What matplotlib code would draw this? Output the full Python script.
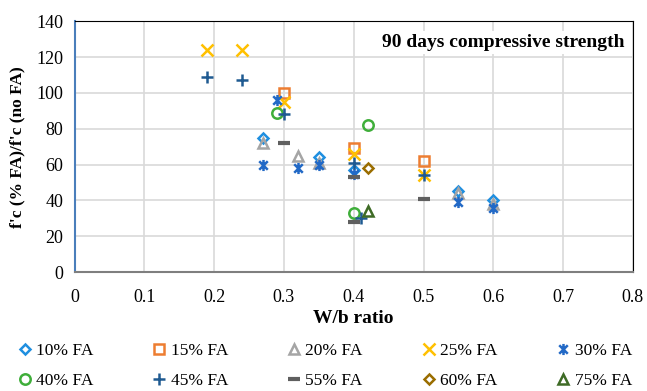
import matplotlib.pyplot as plt
from matplotlib.path import Path

# data
fa10_x = [0.27, 0.35, 0.40, 0.55, 0.60]
fa10_y = [75, 64, 57, 45, 40]
fa15_x = [0.30, 0.40, 0.50]
fa15_y = [100, 69, 62]
fa20_x = [0.27, 0.32, 0.35, 0.55, 0.60]
fa20_y = [72, 65, 61, 44, 38]
fa25_x = [0.19, 0.24, 0.30, 0.40, 0.50]
fa25_y = [124, 124, 95, 66, 54]
fa30_x = [0.27, 0.29, 0.32, 0.35, 0.40, 0.55, 0.60]
fa30_y = [60, 96, 58, 60, 55, 39, 36]
fa40_x = [0.29, 0.40, 0.42]
fa40_y = [89, 33, 82]
fa45_x = [0.19, 0.24, 0.30, 0.40, 0.41, 0.50]
fa45_y = [109, 107, 88, 61, 30, 54]
fa55_x = [0.30, 0.40, 0.40, 0.50]
fa55_y = [72, 53, 28, 41]
fa60_x = [0.42]
fa60_y = [58]
fa75_x = [0.42]
fa75_y = [34]

x_ticks = [0, 0.1, 0.2, 0.3, 0.4, 0.5, 0.6, 0.7, 0.8]
y_ticks = [0, 20, 40, 60, 80, 100, 120, 140]

# excel style "star": X plus a vertical bar
star = Path([(-1, -1), (1, 1), (-1, 1), (1, -1), (0, -1.3), (0, 1.3)],
            [Path.MOVETO, Path.LINETO, Path.MOVETO, Path.LINETO, Path.MOVETO, Path.LINETO])

series = [
    ('10% FA', fa10_x, fa10_y, 'D', '#1F8FE0', 5.5, True),
    ('15% FA', fa15_x, fa15_y, 's', '#ED7D31', 7, True),
    ('20% FA', fa20_x, fa20_y, '^', '#A5A5A5', 7, True),
    ('25% FA', fa25_x, fa25_y, 'x', '#FFC000', 8, False),
    ('30% FA', fa30_x, fa30_y, star, '#2269C6', 8, False),
    ('40% FA', fa40_x, fa40_y, 'o', '#3FAE3A', 7.5, True),
    ('45% FA', fa45_x, fa45_y, '+', '#1F5A91', 8.5, False),
    ('55% FA', fa55_x, fa55_y, '_', '#5F5F5F', 9, False),
    ('60% FA', fa60_x, fa60_y, 'D', '#9A6D00', 5.5, True),
    ('75% FA', fa75_x, fa75_y, '^', '#3E6B25', 7, True),
]

plt.rcParams['font.family'] = ['Liberation Serif', 'DejaVu Serif']

fig = plt.figure(figsize=(6.47, 3.91), dpi=100)
ax = fig.add_axes([0.1155, 0.3043, 0.8625, 0.6412])

handles = {}
for label, xs, ys, mk, col, ms, hollow in series:
    h, = ax.plot(xs, ys, linestyle='none', marker=mk, markersize=ms,
                 markerfacecolor='none' if hollow else col, markeredgecolor=col,
                 markeredgewidth=3 if mk == '_' else 1.8, label=label, zorder=3)
    handles[label] = h

ax.set_xlim(0, 0.8)
ax.set_ylim(0, 140)
ax.set_xticks(x_ticks)
ax.set_xticklabels(['0', '0.1', '0.2', '0.3', '0.4', '0.5', '0.6', '0.7', '0.8'])
ax.set_yticks(y_ticks)
ax.grid(True, color='#D9D9D9', linewidth=1.2)
ax.set_axisbelow(True)
ax.tick_params(axis='both', length=0, labelsize=13)
ax.tick_params(axis='x', pad=12)
ax.tick_params(axis='y', pad=8)

ax.spines['left'].set_color('#4A7EBB')
ax.spines['left'].set_linewidth(1.5)
ax.spines['bottom'].set_color('#7F7F7F')
ax.spines['bottom'].set_linewidth(1.5)
ax.spines['top'].set_color('black')
ax.spines['right'].set_color('black')

ax.set_xlabel('W/b ratio', fontsize=14, fontweight='bold', labelpad=3)
ax.set_ylabel("f'c (% FA)/f'c (no FA)", fontsize=12.5, fontweight='bold', labelpad=8)

ax.text(0.985, 0.915, '90 days compressive strength', transform=ax.transAxes,
        ha='right', va='center', fontsize=14, fontweight='bold',
        bbox=dict(facecolor='white', edgecolor='none', pad=2), zorder=4)

# legend is filled column by column, so interleave the two rows
order = ['10% FA', '40% FA', '15% FA', '45% FA', '20% FA', '55% FA',
         '25% FA', '60% FA', '30% FA', '75% FA']
fig.legend([handles[k] for k in order], order, ncol=5, loc='lower center',
           bbox_to_anchor=(0.5, -0.034), frameon=False, fontsize=12.5,
           handletextpad=0.1, columnspacing=3.25, handlelength=1.1,
           labelspacing=0.8)

plt.savefig('out.png', dpi=100)
